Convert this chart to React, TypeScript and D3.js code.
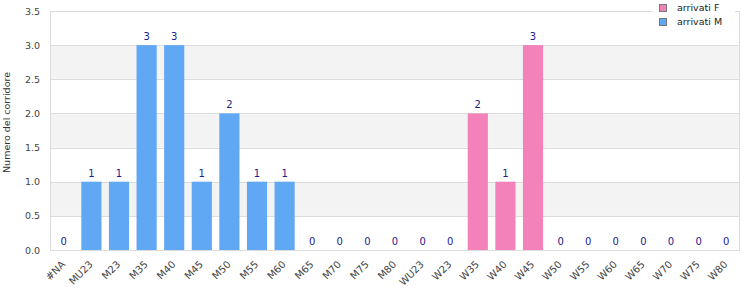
import React, { useEffect, useRef } from "react";
import * as d3 from "d3";

const categories = [
  "#NA", "MU23", "M23", "M35", "M40", "M45", "M50", "M55", "M60", "M65", "M70", "M75", "M80",
  "WU23", "W23", "W35", "W40", "W45", "W50", "W55", "W60", "W65", "W70", "W75", "W80",
];
const arrivatiM = [0, 1, 1, 3, 3, 1, 2, 1, 1, 0, 0, 0, 0, 0, 0, 0, 0, 0, 0, 0, 0, 0, 0, 0, 0];
const arrivatiF = [0, 0, 0, 0, 0, 0, 0, 0, 0, 0, 0, 0, 0, 0, 0, 2, 1, 3, 0, 0, 0, 0, 0, 0, 0];
const yTicks = [0, 0.5, 1, 1.5, 2, 2.5, 3, 3.5];
const seriesNames = ["arrivati F", "arrivati M"];

const COLOR_M = "#60a8f4";
const COLOR_F = "#f282b9";
const FONT = "DejaVu Sans";

export default function App() {
  const svgRef = useRef<SVGSVGElement>(null);

  useEffect(() => {
    const width = 750;
    const height = 300;
    const margin = { top: 11, right: 10, bottom: 50, left: 50 };
    const innerWidth = width - margin.left - margin.right;
    const innerHeight = height - margin.top - margin.bottom;

    const svg = d3.select(svgRef.current);
    svg.selectAll("*").remove();
    svg.attr("width", width).attr("height", height);

    const chart = svg.append("g").attr("transform", `translate(${margin.left},${margin.top})`);

    const x = d3.scaleBand().domain(categories).range([0, innerWidth]).paddingInner(0.27).paddingOuter(0.135);
    const y = d3.scaleLinear().domain([0, 3.5]).range([innerHeight, 0]);

    // alternating bands
    for (let i = 1; i < yTicks.length - 1; i += 2) {
      chart
        .append("rect")
        .attr("x", 0)
        .attr("width", innerWidth)
        .attr("y", y(yTicks[i + 1]))
        .attr("height", y(yTicks[i]) - y(yTicks[i + 1]))
        .attr("fill", "#f3f3f3");
    }

    // grid
    chart
      .selectAll(".grid")
      .data(yTicks)
      .enter()
      .append("line")
      .attr("x1", 0)
      .attr("x2", innerWidth)
      .attr("y1", (d) => Math.round(y(d)) + 0.5)
      .attr("y2", (d) => Math.round(y(d)) + 0.5)
      .attr("stroke", "#dcdcdc");

    // frame
    chart
      .append("rect")
      .attr("x", 0.5)
      .attr("y", 0.5)
      .attr("width", innerWidth - 1)
      .attr("height", innerHeight)
      .attr("fill", "none")
      .attr("stroke", "#dcdcdc");

    // y axis
    const yAxis = chart.append("g").call(d3.axisLeft(y).tickValues(yTicks).tickFormat(d3.format(".1f")).tickSize(0).tickPadding(10));
    yAxis.select(".domain").remove();
    yAxis.selectAll("text").attr("fill", "#444").style("font-family", FONT).style("font-size", "9.5px");

    // x axis
    const xAxis = chart
      .append("g")
      .attr("transform", `translate(0,${innerHeight})`)
      .call(d3.axisBottom(x).tickSize(0));
    xAxis.select(".domain").remove();
    xAxis
      .selectAll("text")
      .attr("fill", "#444")
      .style("font-family", FONT)
      .style("font-size", "10px")
      .attr("text-anchor", "end")
      .attr("x", 0)
      .attr("y", 0)
      .attr("dy", 0)
      .attr("transform", "translate(2,15) rotate(-45)");

    // stacked bars
    const rows = categories.map((c, i) => ({ cat: c, m: arrivatiM[i], f: arrivatiF[i] }));
    chart
      .selectAll(".barM")
      .data(rows)
      .enter()
      .append("rect")
      .attr("x", (d) => x(d.cat)!)
      .attr("width", x.bandwidth())
      .attr("y", (d) => y(d.m))
      .attr("height", (d) => innerHeight - y(d.m))
      .attr("fill", COLOR_M);
    chart
      .selectAll(".barF")
      .data(rows)
      .enter()
      .append("rect")
      .attr("x", (d) => x(d.cat)!)
      .attr("width", x.bandwidth())
      .attr("y", (d) => y(d.m + d.f))
      .attr("height", (d) => y(d.m) - y(d.m + d.f))
      .attr("fill", COLOR_F);

    // value labels
    chart
      .selectAll(".lbl")
      .data(rows)
      .enter()
      .append("text")
      .attr("x", (d) => x(d.cat)! + x.bandwidth() / 2)
      .attr("y", (d) => y(d.m + d.f) - 5)
      .attr("text-anchor", "middle")
      .attr("fill", "#1c1c8c")
      .style("font-family", FONT)
      .style("font-size", "10px")
      .text((d) => d.m + d.f);

    // y title
    svg
      .append("text")
      .attr("transform", `translate(10,${margin.top + innerHeight / 2 - 8}) rotate(-90)`)
      .attr("text-anchor", "middle")
      .attr("fill", "#333")
      .style("font-family", FONT)
      .style("font-size", "9.5px")
      .text("Numero del corridore");

    // legend
    const legend = svg.append("g").attr("transform", "translate(653,0)");
    legend.append("rect").attr("x", 0).attr("y", 0).attr("width", 82).attr("height", 30).attr("fill", "#fff");
    const colors = [COLOR_F, COLOR_M];
    seriesNames.forEach((name, i) => {
      const g = legend.append("g").attr("transform", `translate(0,${i * 14})`);
      g.append("rect")
        .attr("x", 6.5)
        .attr("y", 4.5)
        .attr("width", 7)
        .attr("height", 7)
        .attr("fill", colors[i])
        .attr("stroke", "#777");
      g.append("text")
        .attr("x", 24)
        .attr("y", 11)
        .attr("fill", "#222")
        .style("font-family", FONT)
        .style("font-size", "9.5px")
        .text(name);
    });
  }, []);

  return (
    <div style={{ position: "absolute", left: 0, top: 0 }}>
      <svg ref={svgRef} />
    </div>
  );
}
